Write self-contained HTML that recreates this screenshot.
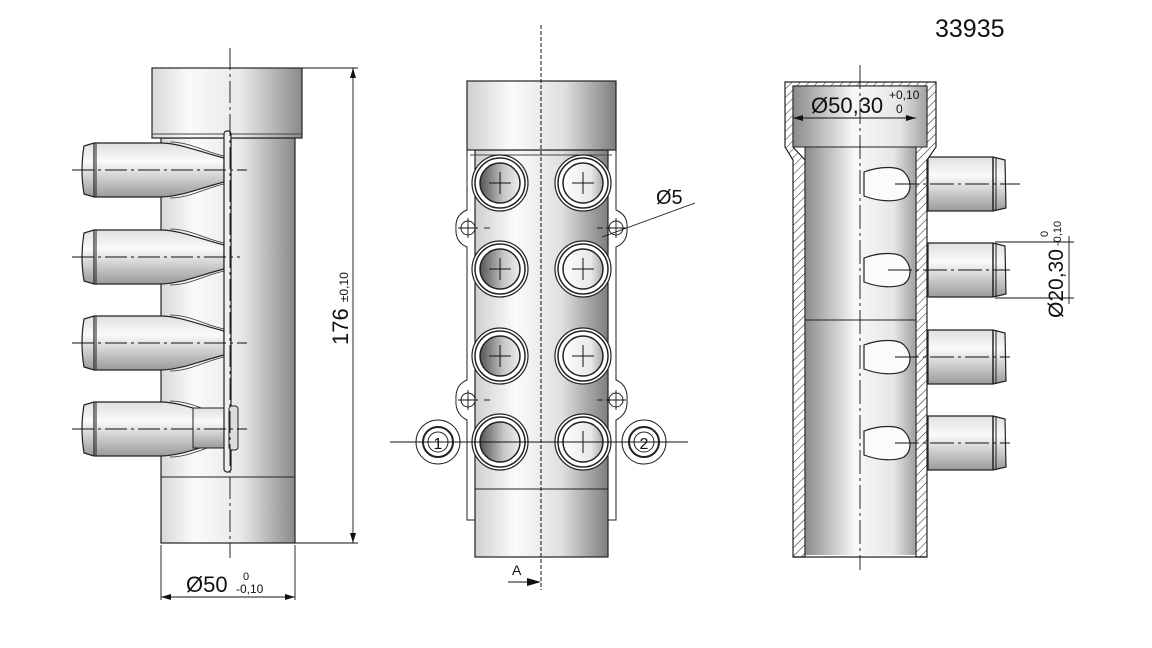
<!DOCTYPE html>
<html><head><meta charset="utf-8"><style>html,body{margin:0;padding:0;background:#fff}svg{display:block}</style></head>
<body>
<svg width="1152" height="648" viewBox="0 0 1152 648" xmlns="http://www.w3.org/2000/svg" font-family="Liberation Sans, sans-serif">
<defs>
<linearGradient id="gL" x1="0" x2="1"><stop offset="0" stop-color="#d8d8d8"/><stop offset="0.25" stop-color="#fafafa"/><stop offset="0.6" stop-color="#e8e8e8"/><stop offset="1" stop-color="#8a8a8a"/></linearGradient>
<linearGradient id="gM" x1="0" x2="1"><stop offset="0" stop-color="#cfcfcf"/><stop offset="0.3" stop-color="#fbfbfb"/><stop offset="0.65" stop-color="#e0e0e0"/><stop offset="1" stop-color="#7e7e7e"/></linearGradient>
<linearGradient id="gR" x1="0" x2="1"><stop offset="0" stop-color="#8a8a8a"/><stop offset="0.45" stop-color="#f8f8f8"/><stop offset="0.8" stop-color="#e6e6e6"/><stop offset="1" stop-color="#a0a0a0"/></linearGradient>
<linearGradient id="gP" x1="0" x2="0" y1="0" y2="1"><stop offset="0" stop-color="#e0e0e0"/><stop offset="0.35" stop-color="#fafafa"/><stop offset="1" stop-color="#9a9a9a"/></linearGradient>
<linearGradient id="gH" x1="0" x2="1"><stop offset="0" stop-color="#555"/><stop offset="0.6" stop-color="#c8c8c8"/><stop offset="1" stop-color="#eee"/></linearGradient>
<linearGradient id="gH2" x1="0" x2="1"><stop offset="0" stop-color="#fff"/><stop offset="0.7" stop-color="#e8e8e8"/><stop offset="1" stop-color="#aaa"/></linearGradient>
<pattern id="hatch" width="6" height="6" patternUnits="userSpaceOnUse" patternTransform="rotate(45)"><rect width="6" height="6" fill="#fff"/><line x1="0" y1="0" x2="0" y2="6" stroke="#222" stroke-width="1"/></pattern>
<g id="lpipe">
<path d="M94,-27 L160,-27 C180,-27 200,-18 224,-12 L224,12 C200,18 180,27 160,27 L94,27 L84,24 Q80,0 84,-24 Z" fill="url(#gP)" stroke="#222" stroke-width="1.2"/>
<line x1="94" y1="-27" x2="94" y2="27" stroke="#222" stroke-width="1.2"/><line x1="96" y1="-27" x2="96" y2="27" stroke="#222"/>
<path d="M170,-28 C190,-28 205,-18 224,-14" fill="none" stroke="#333" stroke-width="0.8"/>
<path d="M170,28 C190,28 205,18 224,14" fill="none" stroke="#333" stroke-width="0.8"/>
</g>
<g id="hole"><circle r="28" fill="#fff" stroke="#222" stroke-width="1.2"/><circle r="25" fill="#fff" stroke="#222" stroke-width="1.5"/><circle r="20" stroke="#222" stroke-width="1.5"/></g>
<g id="rpipe"><path d="M0,-27 L65,-27 L77,-24 L78,24 L65,27 L0,27 Z" fill="url(#gP)" stroke="#222" stroke-width="1.2"/><line x1="65" y1="-27" x2="65" y2="27" stroke="#222" stroke-width="1.5"/><line x1="68" y1="-27" x2="68" y2="27" stroke="#222"/></g>
<g id="tear"><path d="M4,-12 C20,-18 38,-18 44,-12 C52,-4 52,8 44,14 C36,18 20,18 4,12 Z" fill="#fbfbfb" stroke="#222" stroke-width="1.2"/></g>
</defs>

<!-- ===== LEFT VIEW ===== -->
<rect x="161" y="138" width="134" height="405" fill="url(#gL)" stroke="#222" stroke-width="1.2"/>
<line x1="161" y1="477" x2="295" y2="477" stroke="#222"/>
<rect x="152" y="68" width="150" height="70" fill="url(#gL)" stroke="#222" stroke-width="1.2"/>
<line x1="152" y1="134" x2="302" y2="134" stroke="#444"/>
<use href="#lpipe" transform="translate(0,170)"/>
<use href="#lpipe" transform="translate(0,257)"/>
<use href="#lpipe" transform="translate(0,343)"/>
<use href="#lpipe" transform="translate(0,429)"/>
<rect x="193" y="408" width="40" height="40" fill="url(#gP)" stroke="#222"/>
<rect x="224" y="131" width="7" height="341" rx="3" fill="#eee" stroke="#222" stroke-width="1.2"/>
<rect x="229" y="406" width="9" height="44" rx="3" fill="#ddd" stroke="#222"/>
<g stroke="#111" stroke-width="0.9" stroke-dasharray="22,4,3,4">
<line x1="72" y1="170" x2="247" y2="170"/><line x1="72" y1="257" x2="240" y2="257"/><line x1="72" y1="343" x2="247" y2="343"/><line x1="72" y1="429" x2="247" y2="429"/>
<line x1="230" y1="48" x2="230" y2="558"/>
</g>
<g stroke="#111" stroke-width="0.9" fill="none">
<line x1="302" y1="68" x2="358" y2="68"/><line x1="295" y1="543" x2="358" y2="543"/>
<line x1="353" y1="68" x2="353" y2="543"/>
<line x1="161" y1="545" x2="161" y2="600"/><line x1="295" y1="545" x2="295" y2="600"/>
<line x1="161" y1="597" x2="295" y2="597"/>
</g>
<path d="M353,68 l-3,10 l6,0 z M353,543 l-3,-10 l6,0 z M161,597 l10,-3 l0,6 z M295,597 l-10,-3 l0,6 z" fill="#111"/>
<text transform="translate(348,345) rotate(-90)" font-size="22" fill="#111">176 <tspan font-size="12">±0,10</tspan></text>
<text x="186" y="592" font-size="22" fill="#111">Ø50</text>
<text x="243" y="580" font-size="11" fill="#111">0</text>
<text x="236" y="593" font-size="12" fill="#111">-0,10</text>

<!-- ===== MIDDLE VIEW ===== -->
<path d="M467,150 L467,210 Q455,215 456,228 Q455,242 467,247 L467,380 Q455,385 456,400 Q455,414 467,420 L467,520 L475,520 L475,150 Z" fill="#fff" stroke="#222"/>
<path d="M616,150 L616,210 Q628,215 627,228 Q628,242 616,247 L616,380 Q628,385 627,400 Q628,414 616,420 L616,520 L608,520 L608,150 Z" fill="#fff" stroke="#222"/>
<rect x="475" y="150" width="133" height="407" fill="url(#gM)" stroke="#222" stroke-width="1.2"/>
<line x1="475" y1="489" x2="608" y2="489" stroke="#222"/>
<rect x="467" y="81" width="149" height="69" fill="url(#gM)" stroke="#222" stroke-width="1.2"/>
<line x1="470" y1="155" x2="612" y2="155" stroke="#444"/>
<g fill="url(#gH)"><use href="#hole" x="500" y="183"/><use href="#hole" x="500" y="269"/><use href="#hole" x="500" y="356"/><use href="#hole" x="500" y="442"/></g>
<g fill="url(#gH2)"><use href="#hole" x="583" y="183"/><use href="#hole" x="583" y="269"/><use href="#hole" x="583" y="356"/><use href="#hole" x="583" y="442"/></g>
<g stroke="#111" stroke-width="1"><g id="crs">
<line x1="489" y1="183" x2="511" y2="183"/><line x1="500" y1="172" x2="500" y2="194"/>
<line x1="489" y1="269" x2="511" y2="269"/><line x1="500" y1="258" x2="500" y2="280"/>
<line x1="489" y1="356" x2="511" y2="356"/><line x1="500" y1="345" x2="500" y2="367"/></g>
<use href="#crs" x="83"/><line x1="572" y1="442" x2="594" y2="442"/><line x1="583" y1="431" x2="583" y2="453"/></g>
<g fill="#fff" stroke="#222">
<circle cx="438" cy="442" r="22"/><circle cx="438" cy="442" r="15" stroke-width="2"/><circle cx="438" cy="442" r="10"/>
<circle cx="644" cy="442" r="22"/><circle cx="644" cy="442" r="15" stroke-width="2"/><circle cx="644" cy="442" r="10"/>
<circle cx="468" cy="228" r="7"/><circle cx="616" cy="228" r="7"/><circle cx="468" cy="400" r="7"/><circle cx="616" cy="400" r="7"/>
</g>
<text x="438" y="449" font-size="16" text-anchor="middle" fill="#111">1</text>
<text x="644" y="449" font-size="16" text-anchor="middle" fill="#111">2</text>
<g stroke="#111" stroke-width="0.9">
<line x1="458" y1="228" x2="478" y2="228"/><line x1="468" y1="218" x2="468" y2="238"/><line x1="606" y1="228" x2="626" y2="228"/><line x1="616" y1="218" x2="616" y2="238"/>
<line x1="458" y1="400" x2="478" y2="400"/><line x1="468" y1="390" x2="468" y2="410"/><line x1="606" y1="400" x2="626" y2="400"/><line x1="616" y1="390" x2="616" y2="410"/>
<line x1="484" y1="228" x2="490" y2="228"/><line x1="597" y1="228" x2="603" y2="228"/><line x1="484" y1="400" x2="490" y2="400"/><line x1="597" y1="400" x2="603" y2="400"/>
<line x1="390" y1="442" x2="688" y2="442"/>
<line x1="602" y1="237" x2="695" y2="203"/>
</g>
<line x1="541" y1="25" x2="541" y2="590" stroke="#111" stroke-dasharray="4,2"/>
<text x="656" y="204" font-size="20" fill="#111">Ø5</text>
<line x1="508" y1="582" x2="530" y2="582" stroke="#111"/><path d="M541,582 l-14,-4 l0,8 z" fill="#111"/>
<text x="512" y="575" font-size="14" fill="#111">A</text>

<!-- ===== RIGHT VIEW ===== -->
<use href="#rpipe" x="928" y="184"/><use href="#rpipe" x="928" y="270"/><use href="#rpipe" x="928" y="357"/><use href="#rpipe" x="928" y="443"/>
<path d="M785,82 L936,82 L936,147 L927,160 L927,557 L916,557 L916,147 L927,135 L927,86 L793,86 L793,147 L805,160 L805,557 L793,557 L793,160 L785,147 Z" fill="url(#hatch)" stroke="#222" stroke-width="1.2"/>
<rect x="805" y="147" width="111" height="408" fill="url(#gR)"/>
<rect x="793" y="86" width="134" height="61" fill="url(#gR)" stroke="#222"/>
<line x1="805" y1="147" x2="805" y2="557" stroke="#222"/><line x1="916" y1="147" x2="916" y2="557" stroke="#222"/>
<line x1="805" y1="320" x2="916" y2="320" stroke="#222"/>
<line x1="793" y1="557" x2="927" y2="557" stroke="#222" stroke-width="1.2"/>
<use href="#tear" x="860" y="184"/><use href="#tear" x="860" y="270"/><use href="#tear" x="860" y="357"/><use href="#tear" x="860" y="443"/>
<g stroke="#111" stroke-width="0.9" stroke-dasharray="24,4,3,4">
<line x1="895" y1="184" x2="1020" y2="184"/><line x1="888" y1="270" x2="1010" y2="270"/><line x1="895" y1="357" x2="1010" y2="357"/><line x1="895" y1="443" x2="1010" y2="443"/>
<line x1="860" y1="65" x2="860" y2="570"/>
</g>
<g stroke="#111" stroke-width="0.9">
<line x1="793" y1="118" x2="916" y2="118"/><line x1="995" y1="242" x2="1074" y2="242"/><line x1="995" y1="298" x2="1074" y2="298"/><line x1="1069" y1="236" x2="1069" y2="304"/>
</g>
<path d="M793,118 l10,-3 l0,6 z M916,118 l-10,-3 l0,6 z" fill="#111"/>
<text x="811" y="113" font-size="22" fill="#111">Ø50,30</text>
<text x="889" y="99" font-size="12" fill="#111">+0,10</text>
<text x="896" y="113" font-size="12" fill="#111">0</text>
<text transform="translate(1063,318) rotate(-90)" font-size="21" fill="#111">Ø20,30</text>
<text transform="translate(1048,237) rotate(-90)" font-size="11" fill="#111">0</text>
<text transform="translate(1061,246) rotate(-90)" font-size="11" fill="#111">-0,10</text>
<text x="935" y="37" font-size="25" fill="#111">33935</text>
</svg>
</body></html>
